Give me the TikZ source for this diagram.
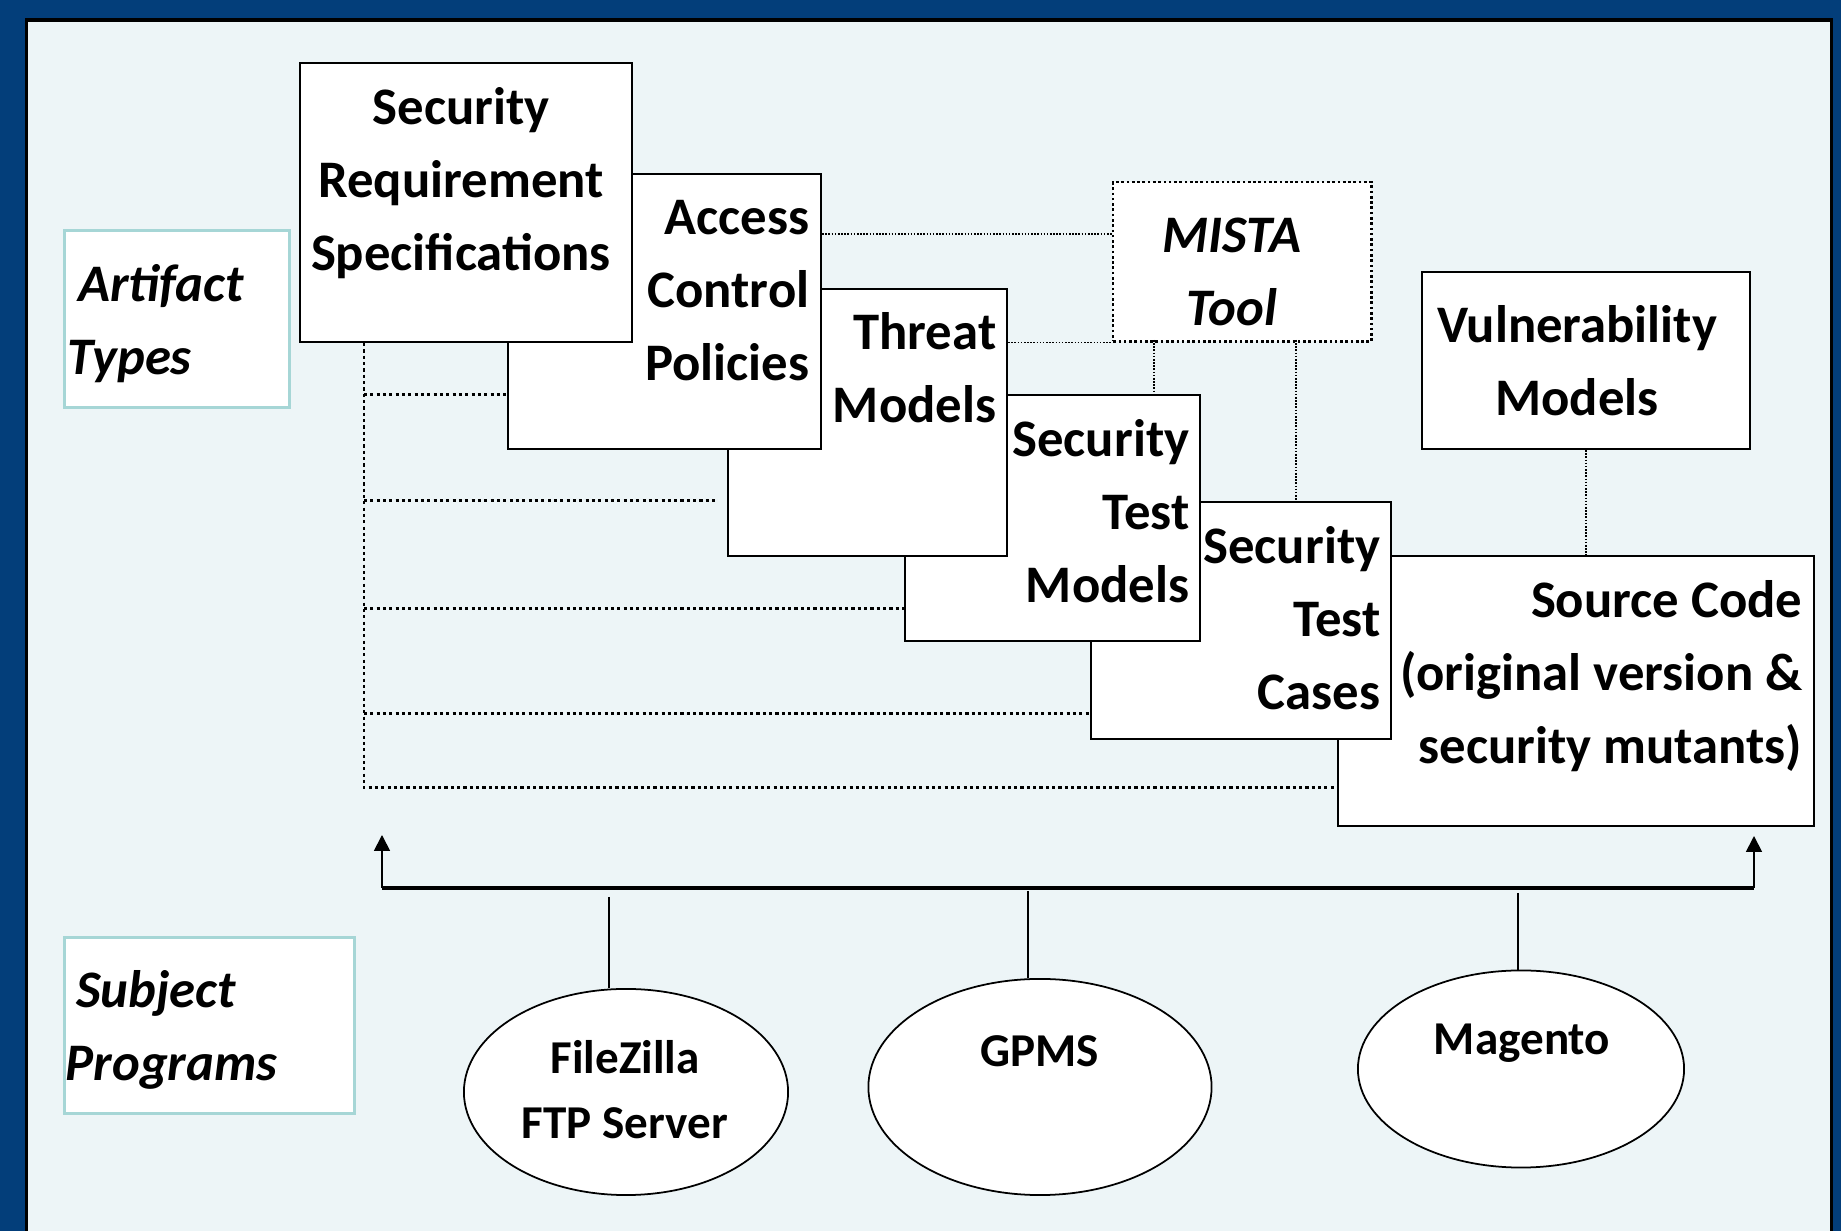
\documentclass[tikz,border=0pt]{standalone}
\usepackage{fontspec}
\setmainfont{Carlito}
\usetikzlibrary{shapes.geometric,arrows.meta}
\definecolor{navy}{RGB}{3,62,122}
\definecolor{panel}{RGB}{237,245,247}
\definecolor{tealb}{RGB}{166,214,214}
\begin{document}
\begin{tikzpicture}[x=0.01cm,y=-0.01cm,
 box/.style={draw=black, fill=white, line width=0.55pt, inner sep=0pt, anchor=north west},
 tealbox/.style={draw=tealb, fill=white, line width=0.8pt, inner sep=0pt, anchor=north west},
 tool/.style={draw=black, fill=white, line width=0.7pt, dash pattern=on 0.75pt off 0.75pt, inner sep=0pt, anchor=north west},
 ell/.style={ellipse, draw=black, fill=white, line width=0.5pt, inner sep=0pt},
 lbl/.style={font=\fontsize{15}{20.7}\selectfont\bfseries, inner sep=0pt},
 ilbl/.style={font=\fontsize{15}{20.7}\selectfont\bfseries\itshape, inner sep=0pt},
 elbl/.style={font=\fontsize{13.4}{18.5}\selectfont\bfseries, inner sep=0pt, align=center},
 trunk/.style={line width=0.85pt, dash pattern=on 0.9pt off 0.9pt},
 fine/.style={line width=0.38pt, dash pattern=on 0.45pt off 0.45pt},
 bus/.style={line width=0.95pt},
 stem/.style={line width=0.6pt},
 arr/.style={line width=0.5pt, -{Triangle[width=4.5pt,length=4.5pt]}}
]
\useasboundingbox (0,0) rectangle (1841,1231);
\fill[navy] (0,0) rectangle (1841,1231);
\filldraw[fill=panel, draw=black, line width=1pt] (26.5,20) rectangle (1831.5,1250);

% stacked artifact boxes (back to front)
\node[box, minimum width=4.76cm, minimum height=2.70cm] (src) at (1337,555) {};
\node[lbl, align=right, anchor=north east] (srcT) at (1803,580) {Source Code\\(original version \&\\security mutants)};
\node[box, minimum width=3.00cm, minimum height=2.37cm] (stc) at (1090,501) {};
\node[lbl, align=right, anchor=north east] (stcT) at (1381,526) {Security\\Test\\Cases};
\node[box, minimum width=2.95cm, minimum height=2.46cm] (stm) at (904,394) {};
\node[lbl, align=right, anchor=north east] (stmT) at (1190,419) {Security\\Test\\Models};
\node[box, minimum width=2.79cm, minimum height=2.67cm] (thr) at (727,288) {};
\node[lbl, align=right, anchor=north east] (thrT) at (997,312) {Threat\\Models};
\node[box, minimum width=3.13cm, minimum height=2.75cm] (acp) at (507,173) {};
\node[lbl, align=right, anchor=north east] (acpT) at (810,200) {Access\\Control\\Policies};
\node[box, minimum width=3.32cm, minimum height=2.79cm] (srs) at (299,62) {};
\node[lbl, align=center, anchor=north] (srsT) at (461,87) {Security\\Requirement\\Specifications};

\node[box, minimum width=3.28cm, minimum height=1.77cm] (vul) at (1421,271) {};
\node[lbl, align=center, anchor=north] (vulT) at (1577,305) {Vulnerability\\Models};
\node[tool, minimum width=2.58cm, minimum height=1.59cm] (mista) at (1112,181) {};
\node[ilbl, align=center, anchor=north] (mistaT) at (1232,217) {MISTA\\Tool};

\node[tealbox, minimum width=2.25cm, minimum height=1.77cm] (art) at (63,229) {};
\node[ilbl, align=left, anchor=north west] (artT) at (67,264) {\hspace*{3pt}Artifact\\Types};
\node[tealbox, minimum width=2.90cm, minimum height=1.76cm] (subj) at (63,936) {};
\node[ilbl, align=left, anchor=north west] (subjT) at (65,970) {\hspace*{3pt}Subject\\Programs};

% subject programs
\node[ell, minimum width=3.24cm, minimum height=2.06cm] (fz) at (626,1092) {};
\node[elbl, anchor=north] (fzT) at (625,1040) {FileZilla\\FTP Server};
\node[ell, minimum width=3.43cm, minimum height=2.16cm] (gp) at (1040,1087) {};
\node[elbl, anchor=base] (gpT) at (1040,1067) {GPMS};
\node[ell, minimum width=3.26cm, minimum height=1.97cm] (mg) at (1521,1069) {};
\node[elbl, anchor=base] (mgT) at (1522,1055) {Magento};

% dotted trunk from the requirements
\coordinate (tr1) at (364,395);
\coordinate (tr2) at (364,501);
\coordinate (tr3) at (364,609);
\coordinate (tr4) at (364,714);
\coordinate (tr5) at (364,788);
\draw[trunk] (srs.south -| tr5) -- (tr5) -- (tr5 -| src.west);
\draw[trunk] (tr1) -- (tr1 -| acp.west);
\draw[trunk] (tr2) -- ([xshift=-0.12cm]tr2 -| thr.west);
\draw[trunk] (tr3) -- (tr3 -| stm.west);
\draw[trunk] (tr4) -- (tr4 -| stc.west);

% MISTA tool links
\coordinate (m1) at (820,234);
\coordinate (v1) at (1154,340);
\coordinate (v2) at (1296,340);
\draw[fine] (acp.east |- m1) -- (m1 -| mista.west);
\draw[fine] (thr.east |- mista.south) -- (mista.south west);
\draw[fine] (v1) -- (v1 |- stm.north);
\draw[fine] (v2) -- (v2 |- stc.north);
\draw[fine] (vul.south) -- (vul.south |- src.north);

% bus with arrows
\coordinate (busL) at (382,888);
\coordinate (busR) at (1754,888);
\coordinate (tipL) at (382,835);
\coordinate (tipR) at (1754,836);
\draw[bus] (busL) -- (busR);
\draw[arr] (busL) -- (tipL);
\draw[arr] (busR) -- (tipR);

\coordinate (s1) at (609,897);
\coordinate (s2) at (1028,891);
\coordinate (s3) at (1518,893);
\draw[stem] (s1) -- (s1 |- fz.north);
\draw[stem] (s2) -- (s2 |- gp.north);
\draw[stem] (s3) -- (s3 |- mg.north);
\end{tikzpicture}
\end{document}
